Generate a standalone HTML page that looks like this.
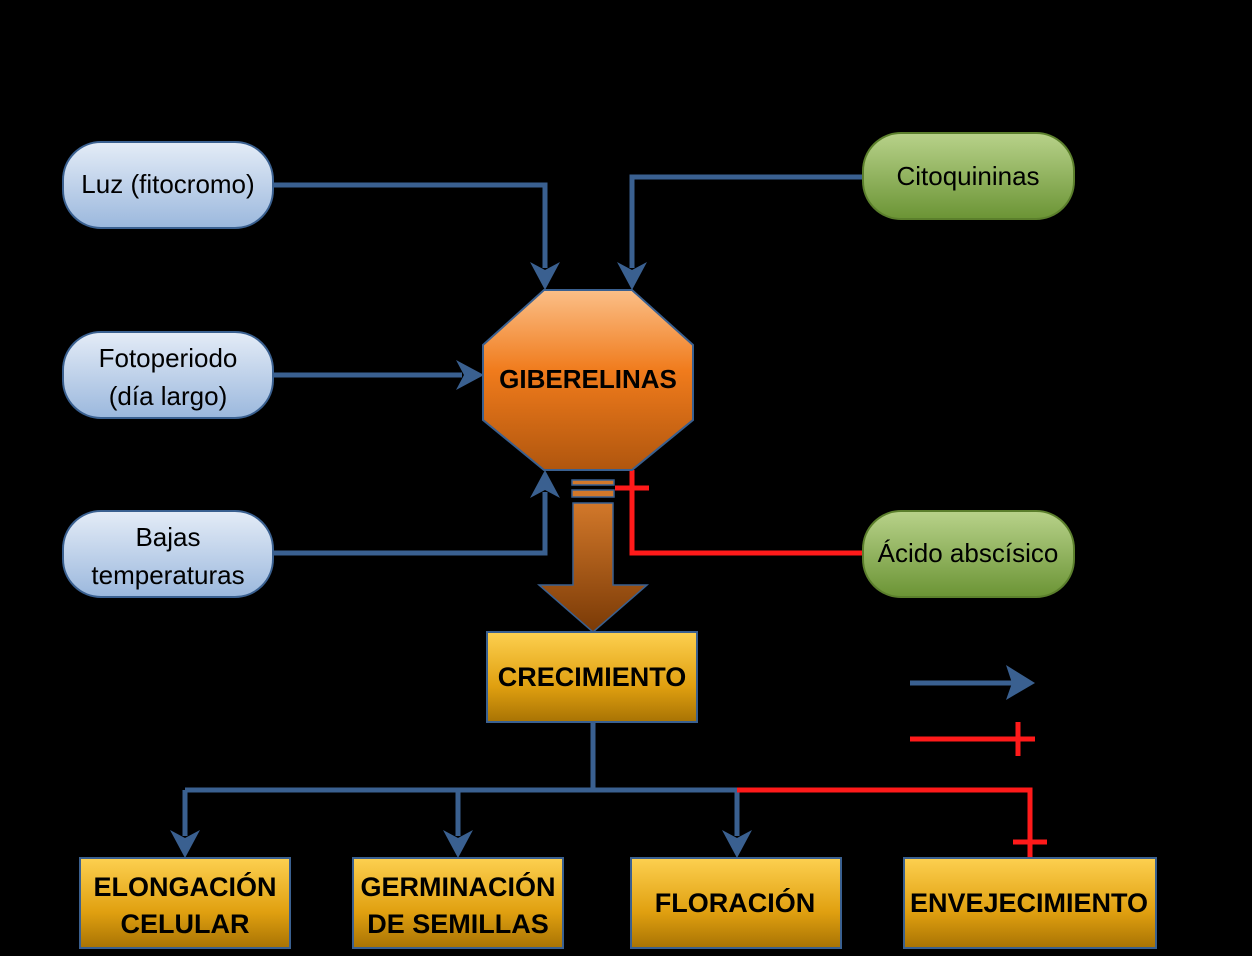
<!DOCTYPE html>
<html><head><meta charset="utf-8"><style>
html,body{margin:0;padding:0;background:#000;}
svg{display:block;}
text{font-family:"Liberation Sans",sans-serif;}
</style></head><body>
<svg width="1252" height="956" viewBox="0 0 1252 956" xmlns="http://www.w3.org/2000/svg">
<defs>
<linearGradient id="blue" x1="0" y1="0" x2="0" y2="1"><stop offset="0" stop-color="#e4ecf7"/><stop offset="1" stop-color="#9bb8dd"/></linearGradient>
<linearGradient id="green" x1="0" y1="0" x2="0" y2="1"><stop offset="0" stop-color="#b8d28a"/><stop offset="1" stop-color="#6b9435"/></linearGradient>
<linearGradient id="orange" x1="0" y1="0" x2="0" y2="1"><stop offset="0" stop-color="#fbbf88"/><stop offset="0.45" stop-color="#f07b1c"/><stop offset="1" stop-color="#b0560e"/></linearGradient>
<linearGradient id="brown" x1="0" y1="0" x2="0" y2="1"><stop offset="0" stop-color="#d2782a"/><stop offset="1" stop-color="#7a3a06"/></linearGradient>
<linearGradient id="gold" x1="0" y1="0" x2="0" y2="1"><stop offset="0" stop-color="#fdd050"/><stop offset="0.6" stop-color="#e0a010"/><stop offset="1" stop-color="#a87304"/></linearGradient>
<marker id="ah" markerWidth="10" markerHeight="10" refX="8" refY="5" orient="auto" markerUnits="userSpaceOnUse" viewBox="0 0 10 10"><path d="M0,0 L10,5 L0,10 L2,5 Z" fill="#3a6090"/></marker>
</defs>
<g stroke="#3a6090" stroke-width="5" fill="none">
<path d="M273,185 H545 V268"/>
<path d="M863,177 H632 V268"/>
<path d="M273,375 H462"/>
<path d="M273,553 H545 V492"/>
<path d="M593,722 V790 M185,790 H737 M185,790 V836 M458,790 V836 M737,790 V836"/>
<path d="M910,683 H1012"/>
</g>
<g fill="#3a6090">
<path d="M530,262 L545,290 L560,262 L545,270 Z"/>
<path d="M617,262 L632,290 L647,262 L632,270 Z"/>
<path d="M456,360 L484,375 L456,390 L464,375 Z"/>
<path d="M530,498 L545,470 L560,498 L545,490 Z"/>
<path d="M170,830 L185,858 L200,830 L185,838 Z"/>
<path d="M443,830 L458,858 L473,830 L458,838 Z"/>
<path d="M722,830 L737,858 L752,830 L737,838 Z"/>
<path d="M1006,665 L1035,683 L1006,700 L1012,683 Z"/>
</g>
<g stroke="#ff1a1a" stroke-width="5" fill="none">
<path d="M863,553 H632 V470 M615,488 H649"/>
<path d="M737,790 H1030 V858 M1013,842 H1047"/>
<path d="M910,739 H1035 M1018,722 V756"/>
</g>
<rect x="63" y="142" width="210" height="86" rx="38" fill="url(#blue)" stroke="#3a6090" stroke-width="2"/>
<rect x="63" y="332" width="210" height="86" rx="38" fill="url(#blue)" stroke="#3a6090" stroke-width="2"/>
<rect x="63" y="511" width="210" height="86" rx="38" fill="url(#blue)" stroke="#3a6090" stroke-width="2"/>
<rect x="863" y="133" width="211" height="86" rx="38" fill="url(#green)" stroke="#5b7f2c" stroke-width="2"/>
<rect x="863" y="511" width="211" height="86" rx="38" fill="url(#green)" stroke="#5b7f2c" stroke-width="2"/>
<g font-size="26" fill="#000" text-anchor="middle">
<text x="168" y="193">Luz (fitocromo)</text>
<text x="168" y="367">Fotoperiodo</text>
<text x="168" y="405">(día largo)</text>
<text x="168" y="546">Bajas</text>
<text x="168" y="584">temperaturas</text>
<text x="968" y="185">Citoquininas</text>
<text x="968" y="562">Ácido abscísico</text>
</g>
<polygon points="544,290 632,290 693,345 693,420 632,470 544,470 483,420 483,345" fill="url(#orange)" stroke="#3a6090" stroke-width="2"/>
<text x="588" y="388" font-size="26" font-weight="bold" text-anchor="middle">GIBERELINAS</text>
<rect x="572" y="480" width="42" height="5" fill="#d2782a" stroke="#3a6090" stroke-width="1.5"/>
<rect x="572" y="490" width="42" height="7" fill="#d2782a" stroke="#3a6090" stroke-width="1.5"/>
<path d="M573,503 H613 V585 H647 L593,632 L539,585 H573 Z" fill="url(#brown)" stroke="#3a6090" stroke-width="1.5"/>
<g stroke="#3a6090" stroke-width="2" fill="url(#gold)">
<rect x="487" y="632" width="210" height="90"/>
<rect x="80" y="858" width="210" height="90"/>
<rect x="353" y="858" width="210" height="90"/>
<rect x="631" y="858" width="210" height="90"/>
<rect x="904" y="858" width="252" height="90"/>
</g>
<g font-size="27" font-weight="bold" text-anchor="middle" fill="#000">
<text x="592" y="686">CRECIMIENTO</text>
<text x="185" y="896">ELONGACIÓN</text>
<text x="185" y="933">CELULAR</text>
<text x="458" y="896">GERMINACIÓN</text>
<text x="458" y="933">DE SEMILLAS</text>
<text x="735" y="912">FLORACIÓN</text>
<text x="1029" y="912">ENVEJECIMIENTO</text>
</g>
</svg>
</body></html>
